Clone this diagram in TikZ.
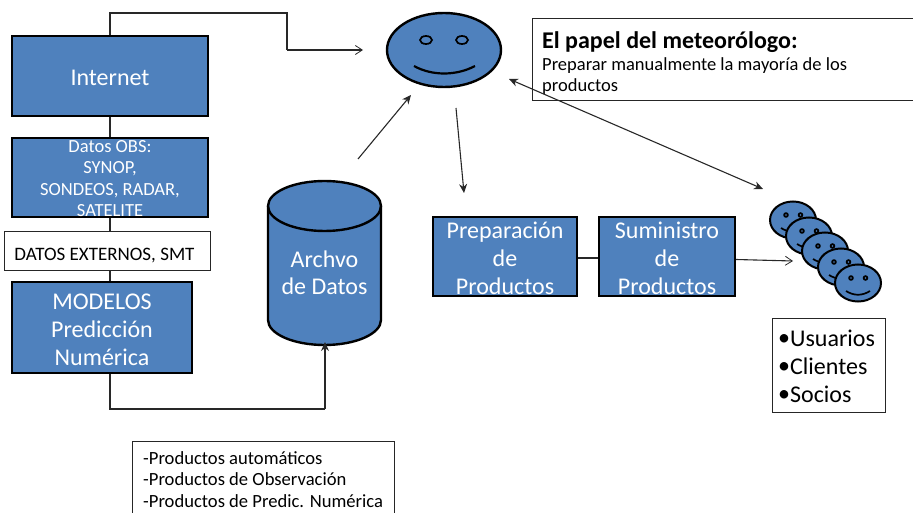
\documentclass[tikz,border=0pt]{standalone}
\usepackage{fontspec}
\setmainfont{Carlito}
\usetikzlibrary{arrows.meta,shapes.geometric}
\definecolor{fillblue}{RGB}{79,129,189}
\definecolor{linegray}{RGB}{40,40,40}
\tikzset{
  x=1pt,y=-1pt,
  bluebox/.style={draw=black,line width=2.4pt,fill=fillblue,minimum width=#1,inner sep=0pt},
  bluetext/.style={text=white,align=center,inner sep=0pt,font=\fontsize{24}{28}\selectfont},
  smalltext/.style={bluetext,font=\fontsize{18.5}{21.3}\selectfont},
  whitebox/.style={draw=black!85,line width=1pt,fill=white,align=left,inner sep=0pt},
  conn/.style={draw=linegray,line width=1.1pt},
  openarr/.style={conn,-{Straight Barb[length=7pt,width=9pt,line width=0.8pt]}},
  filledarr/.style={conn,-{Stealth[length=9pt,width=8pt]}},
  filledboth/.style={conn,{Stealth[length=9pt,width=8pt]}-{Stealth[length=9pt,width=8pt]}},
  faceout/.style={draw=black,line width=2pt,fill=fillblue},
  feature/.style={draw=black,line width=1.7pt},
}
\newcommand{\smallface}[2]{%
  \fill[faceout,draw=black] (#1,#2) ellipse [x radius=23,y radius=18.5];
  \fill[black] (#1-7,#2-5) circle (2.8);
  \fill[black] (#1+7.5,#2-5) circle (2.8);
  \fill[fillblue] (#1-7,#2-5) circle (0.8);
  \fill[fillblue] (#1+7.5,#2-5) circle (0.8);
  \draw[feature] (#1-12,#2+8) .. controls (#1-4,#2+13) and (#1+4,#2+13) .. (#1+12,#2+8);
}
\begin{document}
\begin{tikzpicture}
\useasboundingbox (0,0) rectangle (913,513);
\coordinate (c1) at (110,13);
\coordinate (c2) at (287,13);
\coordinate (c3) at (287,50);
\coordinate (c4) at (363,50);
\coordinate (m1) at (110,409);
\coordinate (m2) at (325,409);
\coordinate (m3) at (325,342);
\coordinate (a1) at (358,159);
\coordinate (a2) at (411,95);
\coordinate (b1) at (456,108);
\coordinate (b2) at (464,193);
\coordinate (d1) at (509,79);
\coordinate (d2) at (763,189);
\coordinate (e2) at (793,261);

% title box
\draw[whitebox] (913,19) -- (532,19) -- (532,101) -- (913,101);
\node[anchor=north west,inner sep=0pt,align=left,font=\fontsize{18.5}{21}\selectfont] (title) at (542,31)
  {{\fontsize{24}{26}\selectfont\bfseries El papel del meteorólogo:}\\[1pt]Preparar manualmente la mayoría de los\\productos};

\node[bluebox=196pt,minimum height=80pt,label={[bluetext,yshift=-1.5pt]center:Internet}] (internet) at (110,76) {};
\node[bluebox=196pt,minimum height=79pt,label={[smalltext,yshift=-1pt]center:{Datos OBS:\\SYNOP,\\SONDEOS, RADAR,\\SATELITE}}] (obs) at (110,177.5) {};
\node[whitebox,minimum width=206pt,minimum height=38pt,label={[inner sep=0pt,font=\fontsize{19}{22}\selectfont,xshift=-2.5pt,yshift=-4.5pt]center:DATOS EXTERNOS, SMT}] (ext) at (107,251) {};
\node[bluebox=180pt,minimum height=91pt,label={[bluetext,yshift=-2.5pt]center:{MODELOS\\Predicción\\Numérica}}] (modelos) at (102,327.5) {};

% cylinder
\path[draw=black,line width=2.4pt,fill=fillblue] (268,206) arc [start angle=180,end angle=360,x radius=56.5,y radius=25]
  -- (381,320) arc [start angle=0,end angle=180,x radius=56.5,y radius=25] -- cycle;
\draw[black,line width=2.4pt] (268,206) arc [start angle=180,end angle=0,x radius=56.5,y radius=25];
\node[text=white,align=center,inner sep=0pt,font=\fontsize{24}{26.5}\selectfont] (archivo) at (324.5,273) {Archvo\\de Datos};

\node[bluebox=144pt,minimum height=79pt,label={[bluetext,yshift=-2pt]center:{Preparación\\de\\Productos}}] (prep) at (505,256.5) {};
\node[bluebox=136pt,minimum height=79pt,label={[bluetext,yshift=-2pt]center:{Suministro\\de\\Productos}}] (sum) at (667,256.5) {};

% big face
\node[ellipse,draw=black,line width=2.4pt,fill=fillblue,minimum width=114pt,minimum height=74pt,inner sep=0pt] (face) at (444,50) {};
\draw[feature,fill=fillblue] (426,40) ellipse [x radius=6,y radius=4];
\draw[feature,fill=fillblue] (462,40) ellipse [x radius=6,y radius=4];
\draw[draw=black,line width=2.2pt] (414,66) .. controls (432,76) and (456,76) .. (475,66);

% small faces
\smallface{793}{220}
\smallface{809}{236}
\smallface{825}{251}
\smallface{841}{267}
\smallface{858}{283}

% connectors
\draw[conn] (internet.north) -- (c1) -- (c2) -- (c3);
\draw[openarr] (c3) -- (c4);
\draw[conn] (internet.south) -- (obs.north);
\draw[conn] (obs.south) -- (obs.south |- ext.north);
\draw[conn] (obs.south |- ext.south) -- (obs.south |- modelos.north);
\draw[conn] (obs.south |- modelos.south) -- (m1) -- (m2);
\draw[filledarr] (m2) -- (m3);
\draw[filledarr] (a1) -- (a2);
\draw[filledarr] (b1) -- (b2);
\draw[filledboth] (d1) -- (d2);
\draw[conn] ([yshift=-1.5pt]prep.east) -- ([yshift=-1.5pt]sum.west);
\draw[openarr] ([yshift=-3pt]sum.east) -- (e2);

% users
\node[whitebox,minimum width=113pt,minimum height=94pt] (users) at (828.5,365) {};
\node[anchor=west,inner sep=0pt,align=left,font=\fontsize{24}{28}\selectfont] (userstext) at (778,366) {\raisebox{1pt}{\textbullet}Usuarios\\\raisebox{1pt}{\textbullet}Clientes\\\raisebox{1pt}{\textbullet}Socios};

% products
\draw[whitebox] (132,513) -- (132,441) -- (394,441) -- (394,513);
\node[anchor=north west,inner sep=0pt,align=left,font=\fontsize{18.6}{21.5}\selectfont] (prod) at (143,451) {-Productos automáticos\\-Productos de Observación\\-Productos de Predic. Numérica};
\end{tikzpicture}
\end{document}
